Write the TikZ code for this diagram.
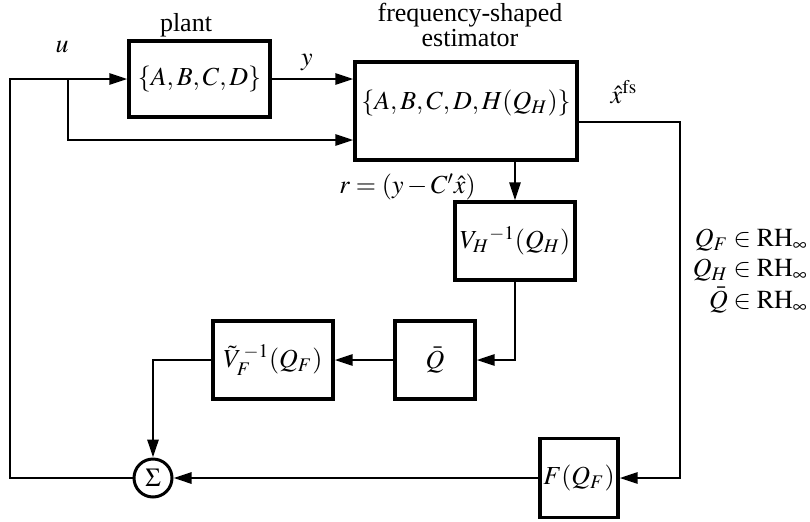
\documentclass[tikz,border=0pt]{standalone}
\usepackage{mathptmx}
\usepackage{fontspec}
\setmainfont{Liberation Serif}
\usetikzlibrary{arrows.meta}
\begin{document}
\begin{tikzpicture}[x=0.5pt,y=-0.5pt,
  every node/.style={font=\fontsize{13}{12.5}\selectfont, inner sep=0pt},
  blk/.style={draw, line width=1.6pt, inner sep=0pt},
  wire/.style={line width=1.4pt},
  arr/.style={wire, -{Triangle[length=9pt,width=5.5pt]}},
]
\fill[white] (0,0) rectangle (810,521);
\useasboundingbox (0,0) rectangle (810,521);

% blocks
\node[blk, minimum width=70.5pt, minimum height=38pt] (plant) at (199.5,79) {$\{A,B,C,D\}$};
\node[blk, minimum width=111pt, minimum height=49pt] (est) at (466,111) {};
\node (esttext) at (466,103) {$\{A,B,C,D,H(Q_H)\}$};
\node[blk, minimum width=60pt, minimum height=39pt] (VH) at (515,241) {${V_H}^{-1}(Q_H)$};
\node[blk, minimum width=40pt, minimum height=39pt] (Qb) at (435,360) {$\bar{Q}$};
\node[blk, minimum width=60pt, minimum height=39pt] (VF) at (273,360) {${\tilde{V}_F}^{\,-1}(Q_F)$};
\node[blk, minimum width=39pt, minimum height=39.5pt] (F) at (579,478) {$F(Q_F)$};
\node[draw, circle, line width=1.5pt, minimum size=19pt] (sum) at (153,478) {$\Sigma$};

% labels
\node (plantlbl) at (186,25) {plant};
\node[align=center] (estlbl) at (470,25) {frequency-shaped\\estimator};
\node (ulbl) at (62,47) {$u$};
\node (ylbl) at (307,62) {$y$};
\node (xlbl) at (624,92) {$\hat{x}^{\mathrm{fs}}$};
\node[anchor=east] (rlbl) at (476,187) {$r=(y-C'\hat{x})$};
\node[anchor=east] (rf) at (808,240) {$Q_F\in\mathrm{RH}_\infty$};
\node[anchor=east] (rh) at (808,270) {$Q_H\in\mathrm{RH}_\infty$};
\node[anchor=east] (rq) at (808,300) {$\bar{Q}\in\mathrm{RH}_\infty$};

% coordinates
\coordinate (lc) at (10,478);
\coordinate (lt) at (10,79);
\coordinate (j) at (68,79);
\coordinate (jb) at (68,140);
\coordinate (ro) at (680,122);

% connectors
\draw[arr] (plant.east) -- (plant.east -| est.west);
\draw[arr] (sum.west) -- (lc) -- (lt) -- (plant.west);
\draw[arr] (j) -- (jb) -- (jb -| est.west);
\draw[arr] (VH.north |- est.south) -- (VH.north);
\draw[arr] (ro -| est.east) -- (ro) -- (ro |- F.east) -- (F.east);
\draw[arr] (VH.south) -- (VH.south |- Qb.east) -- (Qb.east);
\draw[arr] (Qb.west) -- (VF.east);
\draw[arr] (VF.west) -- (VF.west -| sum.north) -- (sum.north);
\draw[arr] (F.west) -- (sum.east);
\end{tikzpicture}
\end{document}
